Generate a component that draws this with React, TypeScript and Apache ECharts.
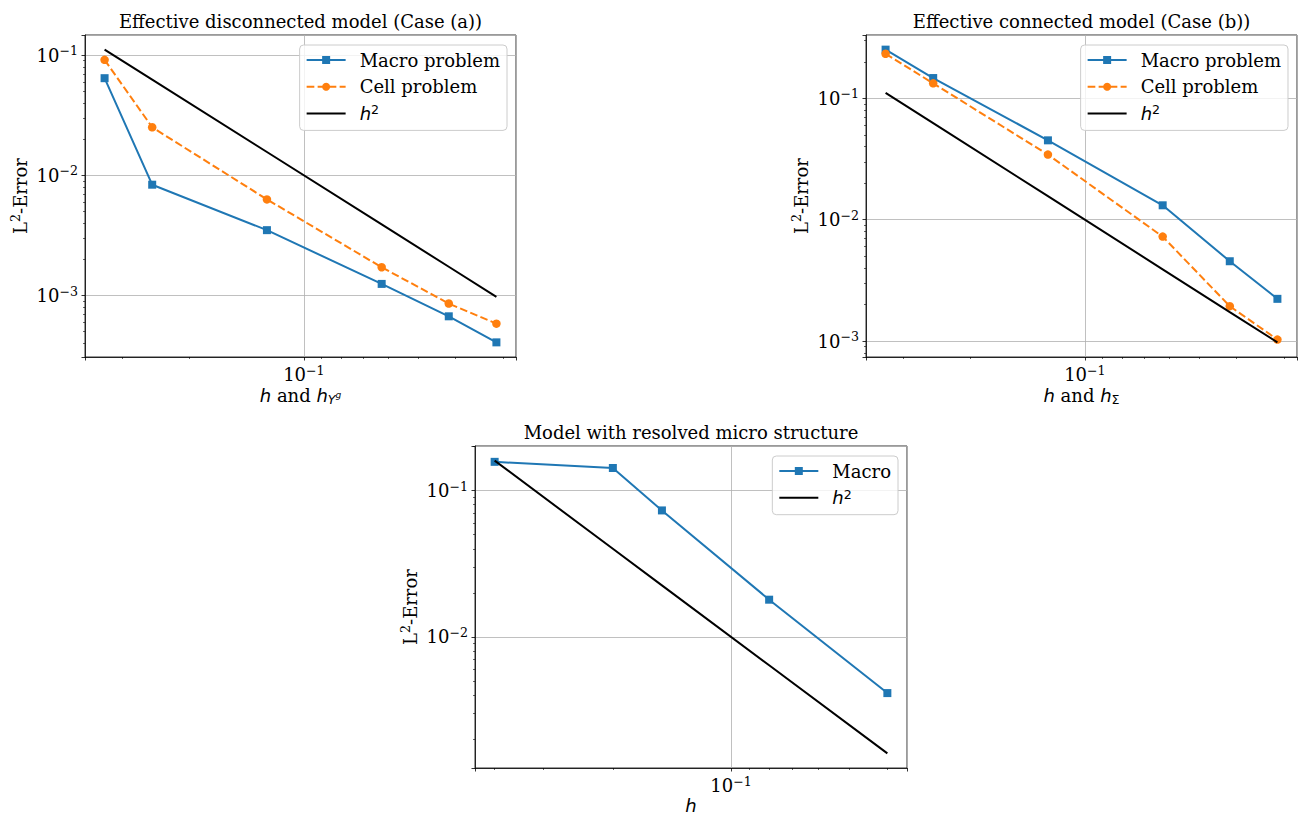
import React, { useEffect, useRef } from 'react';
import * as echarts from 'echarts';

// ---- data ----
const hEff = [0.3333, 0.25, 0.125, 0.0625, 0.04167, 0.03125];
const h2Eff = [0.1111, 0.0625, 0.01563, 0.003906, 0.001736, 0.0009766];
const macroA = [0.0643, 0.00836, 0.0035, 0.00125, 0.000672, 0.000408];
const cellA = [0.0914, 0.0251, 0.00631, 0.00172, 0.000858, 0.000584];
const macroB = [0.252, 0.147, 0.0451, 0.01315, 0.00455, 0.00223];
const cellB = [0.233, 0.133, 0.0344, 0.00726, 0.00194, 0.00103];
const hRes = [0.4, 0.2, 0.15, 0.08, 0.04];
const macroC = [0.157, 0.1425, 0.0731, 0.01795, 0.00413];
const h2Res = [0.16, 0.04, 0.0225, 0.0064, 0.0016];

const titles = [
  'Effective disconnected model (Case (a))',
  'Effective connected model (Case (b))',
  'Model with resolved micro structure',
];
const xNames = [
  '{i|h}{t| and }{i|h}{sub|Y}{subsup|g}',
  '{i|h}{t| and }{i|h}{subu|Σ}',
  '{ic|h}',
];
const yName = '{t|L}{sup|2}{t|-Error}';

const SERIF = 'DejaVu Serif';
const SANS = 'DejaVu Sans';
const BLUE = '#1f77b4';
const ORANGE = '#ff7f0e';

const zip = (xs: number[], ys: number[]) => xs.map((x, i) => [x, ys[i]]);

const logRange = (arrs: number[][]) => {
  const all = arrs.flat();
  const lo = Math.log10(Math.min(...all));
  const hi = Math.log10(Math.max(...all));
  const m = 0.05 * (hi - lo);
  return { min: Math.pow(10, lo - m), max: Math.pow(10, hi + m) };
};

const powLabel = (v: number) => {
  const l = Math.log10(v);
  const e = Math.round(l);
  if (Math.abs(l - e) > 1e-6) return '';
  return `{b|10}{s|${e < 0 ? '\u2212' : ''}${Math.abs(e)}}`;
};

const nameRich = {
  i: { fontFamily: SANS, fontStyle: 'italic', fontSize: 18, lineHeight: 22, color: '#000' },
  ic: { fontFamily: SANS, fontStyle: 'italic', fontSize: 18, lineHeight: 16, color: '#000' },
  t: { fontFamily: SERIF, fontSize: 18, lineHeight: 22, color: '#000' },
  sub: { fontFamily: SANS, fontStyle: 'italic', fontSize: 12.6, lineHeight: 13, verticalAlign: 'bottom', color: '#000' },
  subu: { fontFamily: SANS, fontSize: 12.6, lineHeight: 13, verticalAlign: 'bottom', color: '#000' },
  subsup: { fontFamily: SANS, fontStyle: 'italic', fontSize: 9, lineHeight: 9, verticalAlign: 'middle', color: '#000' },
  sup: { fontFamily: SERIF, fontSize: 12.6, lineHeight: 13, verticalAlign: 'top', color: '#000' },
};

const labelRich = {
  b: { fontFamily: SERIF, fontSize: 18, lineHeight: 22, color: '#000' },
  s: { fontFamily: SERIF, fontSize: 12.6, lineHeight: 13, verticalAlign: 'top', color: '#000' },
};

const grids = [
  { left: 85, top: 35, width: 431, height: 322 },
  { left: 866, top: 35, width: 431, height: 322 },
  { left: 475, top: 446, width: 432, height: 322 },
];

const xRanges = [logRange([hEff]), logRange([hEff]), logRange([hRes])];
const yRanges = [
  logRange([macroA, cellA, h2Eff]),
  logRange([macroB, cellB, h2Eff]),
  logRange([macroC, h2Res]),
];

const commonAxis = (isX: boolean) => ({
  type: 'log',
  logBase: 10,
  axisLine: { show: true, onZero: false, lineStyle: { color: '#000', width: 0.8 } },
  axisTick: { show: true, inside: false, length: 3.5, lineStyle: { color: '#000', width: 0.8 } },
  minorTick: { show: true, splitNumber: 9, length: 2, lineStyle: { color: '#000', width: 0.6 } },
  minorSplitLine: { show: false },
  splitLine: { show: true, lineStyle: { color: '#b0b0b0', width: 0.8 } },
  axisLabel: {
    formatter: powLabel,
    margin: isX ? 6.5 : 7,
    rich: labelRich,
    showMinLabel: true,
    showMaxLabel: true,
    hideOverlap: false,
  },
  nameLocation: 'middle',
  nameMoveOverlap: false,
  nameTextStyle: { rich: nameRich },
});

const lineBase = {
  type: 'line',
  animation: false,
  silent: true,
  emphasis: { disabled: true },
  clip: false,
};

const macroSeries = (name: string, idx: number, hs: number[], vs: number[]) => ({
  ...lineBase,
  name,
  xAxisIndex: idx,
  yAxisIndex: idx,
  data: zip(hs, vs),
  symbol: 'rect',
  symbolSize: 8,
  showSymbol: true,
  itemStyle: { color: BLUE },
  lineStyle: { color: BLUE, width: 2 },
  z: 2,
});
const cellSeries = (idx: number, hs: number[], vs: number[]) => ({
  ...lineBase,
  name: 'Cell problem',
  xAxisIndex: idx,
  yAxisIndex: idx,
  data: zip(hs, vs),
  symbol: 'circle',
  symbolSize: 8.5,
  showSymbol: true,
  itemStyle: { color: ORANGE },
  lineStyle: { color: ORANGE, width: 2, type: [7.7, 3.3] },
  z: 3,
});
const h2Series = (idx: number, hs: number[], vs: number[]) => ({
  ...lineBase,
  name: 'h2',
  xAxisIndex: idx,
  yAxisIndex: idx,
  data: zip(hs, vs),
  symbol: 'none',
  showSymbol: false,
  itemStyle: { color: '#000' },
  lineStyle: { color: '#000', width: 2 },
  z: 4,
});

const h2Legend = { name: 'h2', itemStyle: { opacity: 0 } };

const legendBase = {
  orient: 'vertical',
  itemWidth: 39,
  itemHeight: 10,
  itemGap: 6.7,
  padding: [5, 7, 7, 6],
  backgroundColor: 'rgba(255,255,255,0.8)',
  borderColor: '#cccccc',
  borderWidth: 1,
  borderRadius: 4,
  selectedMode: false,
  formatter: (n: string) => (n === 'h2' ? '{i|h}{s|2}' : n),
  textStyle: {
    fontFamily: SERIF,
    fontSize: 18,
    lineHeight: 20,
    color: '#000',
    padding: [0, 0, 0, 9],
    rich: {
      i: { fontFamily: SANS, fontStyle: 'italic', fontSize: 18, lineHeight: 20, color: '#000' },
      s: { fontFamily: SANS, fontSize: 12.6, lineHeight: 12, verticalAlign: 'top', color: '#000' },
    },
  },
};

export default function App() {
  const ref = useRef<HTMLDivElement>(null);
  useEffect(() => {
    if (!ref.current) return;
    const chart = echarts.init(ref.current, undefined, { renderer: 'svg' });
    const option: any = {
      animation: false,
      backgroundColor: '#ffffff',
      title: titles.map((t, i) => ({
        text: t,
        left: grids[i].left + grids[i].width / 2,
        top: i < 2 ? 12 : 423,
        textAlign: 'center',
        padding: 0,
        textStyle: { fontFamily: SERIF, fontSize: 18, fontWeight: 'normal', color: '#000' },
      })),
      grid: grids.map((g) => ({
        ...g,
        show: true,
        borderColor: '#000',
        borderWidth: 0.8,
        backgroundColor: '#fff',
        containLabel: false,
        outerBoundsMode: 'none',
      })),
      xAxis: grids.map((g, i) => ({
        ...commonAxis(true),
        gridIndex: i,
        inverse: true,
        min: xRanges[i].min,
        max: xRanges[i].max,
        name: xNames[i],
        nameGap: i < 2 ? 27 : 29,
      })),
      yAxis: grids.map((g, i) => ({
        ...commonAxis(false),
        gridIndex: i,
        min: yRanges[i].min,
        max: yRanges[i].max,
        name: yName,
        nameGap: 54,
        nameRotate: 90,
      })),
      legend: [
        { ...legendBase, right: 1298 - 507, top: 45, data: ['Macro problem', 'Cell problem', h2Legend] },
        { ...legendBase, right: 1298 - 1288, top: 45, data: ['Macro problem', 'Cell problem', h2Legend] },
        { ...legendBase, right: 1298 - 898, top: 456, data: ['Macro', h2Legend] },
      ],
      series: [
        macroSeries('Macro problem', 0, hEff, macroA),
        cellSeries(0, hEff, cellA),
        h2Series(0, hEff, h2Eff),
        macroSeries('Macro problem', 1, hEff, macroB),
        cellSeries(1, hEff, cellB),
        h2Series(1, hEff, h2Eff),
        macroSeries('Macro', 2, hRes, macroC),
        h2Series(2, hRes, h2Res),
      ],
    };
    chart.setOption(option);
    return () => chart.dispose();
  }, []);
  return (
    <div
      ref={ref}
      style={{ position: 'absolute', left: 0, top: 0, width: 1298, height: 814, background: '#fff' }}
    />
  );
}
